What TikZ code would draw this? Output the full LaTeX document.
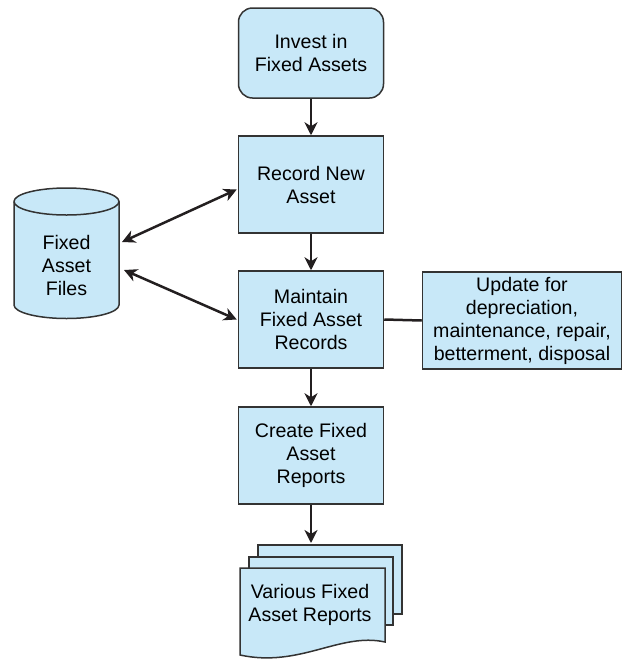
\documentclass[tikz,border=0pt]{standalone}
\usepackage{fontspec}
\setmainfont{Liberation Sans}
\usetikzlibrary{arrows.meta, positioning, calc}
\definecolor{boxblue}{HTML}{C8E8F8}
\definecolor{edgegray}{HTML}{333333}
\definecolor{arrowblack}{HTML}{231F20}

\begin{document}
\begin{tikzpicture}[x=0.5pt, y=-0.5pt,
  box/.style={draw=edgegray, line width=0.75pt, fill=boxblue, minimum width=72.5pt, minimum height=48.5pt, inner sep=0pt, align=center, font=\fontsize{9.8}{11.5}\selectfont},
  txt/.style={align=center, inner sep=0pt, font=\fontsize{9.8}{11.5}\selectfont},
  shapeline/.style={draw=edgegray, line width=0.75pt, fill=boxblue},
  flow/.style={-{Stealth[length=6.5pt, width=6.5pt, inset=2pt]}, line width=1.25pt, arrowblack},
  twoway/.style={{Stealth[length=6.5pt, width=6.5pt, inset=2pt]}-{Stealth[length=6.5pt, width=6.5pt, inset=2pt]}, line width=1.25pt, arrowblack}]
  \useasboundingbox (0,0) rectangle (622,660);

  % Main process column
  \node[box, rounded corners=7pt, minimum height=45pt] (invest) at (311,53) {Invest in\\Fixed Assets};
  \node[box] (record) at (311,184.5) {Record New\\Asset};
  \node[box] (maintain) at (311,319.5) {Maintain\\Fixed Asset\\Records};
  \node[box] (create) at (311,455.5) {Create Fixed\\Asset\\Reports};

  % Update box on the right
  \node[box, minimum width=99.5pt] (update) at (522,320.5) {Update for\\depreciation,\\maintenance, repair,\\betterment, disposal};

  % Fixed asset files (cylinder)
  \path[shapeline] (14,201.5) -- (14,305) arc (180:0:52.5 and 13.5) -- (119,201.5) arc (0:-180:52.5 and 13.5) -- cycle;
  \draw[draw=edgegray, line width=0.75pt] (14,201.5) arc (180:0:52.5 and 13.5);
  \node[txt] (files) at (66.5,265) {Fixed\\Asset\\Files};
  \coordinate (filesA) at (122,242);
  \coordinate (filesB) at (124,270);

  % Report stack
  \path[shapeline] (258,545) rectangle (402,614);
  \path[shapeline] (249,557) rectangle (393,625);
  \path[shapeline] (240,568) -- (385,568) -- (385,642) .. controls (340,632) and (300,668) .. (240,655) -- cycle;
  \node[txt] (reports) at (310,604.5) {Various Fixed\\Asset Reports};
  \coordinate (stacktop) at (311,543);

  % Connectors
  \draw[flow] (invest) -- (record);
  \draw[flow] (record) -- (maintain);
  \draw[flow] (maintain) -- (create);
  \draw[flow] (create) -- (stacktop);
  \draw[line width=1.25pt, arrowblack] (maintain.east) -- (update.west);
  \draw[twoway] (filesA) -- ($(record.west)+(-1,5)$);
  \draw[twoway] (filesB) -- ($(maintain.west)+(-1,0)$);
\end{tikzpicture}
\end{document}
